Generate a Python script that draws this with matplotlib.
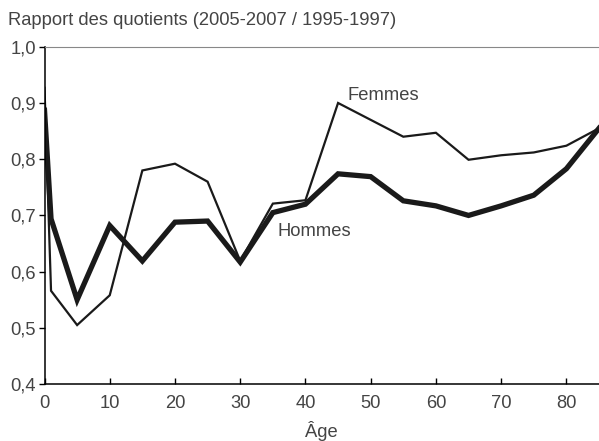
import matplotlib.pyplot as plt

plt.rcParams['font.family'] = ['Liberation Sans', 'DejaVu Sans']

# ages and ratios
ages = [0, 1, 5, 10, 15, 20, 25, 30, 35, 40, 45, 50, 55, 60, 65, 70, 75, 80, 85]
femmes = [0.927, 0.566, 0.505, 0.558, 0.780, 0.792, 0.760, 0.619, 0.721, 0.727,
          0.900, 0.870, 0.840, 0.847, 0.799, 0.807, 0.812, 0.824, 0.855]
hommes = [0.887, 0.694, 0.550, 0.682, 0.619, 0.688, 0.690, 0.617, 0.705, 0.720,
          0.774, 0.769, 0.726, 0.717, 0.700, 0.717, 0.736, 0.783, 0.855]
xticks = [0, 10, 20, 30, 40, 50, 60, 70, 80]
yticks = [0.4, 0.5, 0.6, 0.7, 0.8, 0.9, 1.0]

txt = '#444444'
fs = 13.2
fig = plt.figure(figsize=(5.99, 4.41), dpi=100)
ax = fig.add_axes([0.0743, 0.129, 0.9257, 0.765])

ax.plot(ages, femmes, color='#1a1a1a', lw=1.6, solid_joinstyle='miter')
ax.plot(ages, hommes, color='#1a1a1a', lw=3.8, solid_joinstyle='miter')

ax.set_xlim(0, 85)
ax.set_ylim(0.4, 1.0)
ax.set_xticks(xticks)
ax.set_yticks(yticks)
ax.set_yticklabels([('%.1f' % v).replace('.', ',') for v in yticks])

ax.spines['right'].set_visible(False)
ax.spines['top'].set_color('#888888')
ax.spines['top'].set_linewidth(0.8)
ax.spines['left'].set_linewidth(1.1)
ax.spines['bottom'].set_linewidth(1.1)
ax.tick_params(axis='x', direction='in', length=4, width=1, labelsize=fs,
               labelcolor=txt, pad=8)
ax.tick_params(axis='y', direction='out', length=4, width=1, labelsize=fs,
               labelcolor=txt, pad=2)

ax.set_xlabel('Âge', fontsize=fs, color=txt, labelpad=6)
fig.text(0.013, 0.953, 'Rapport des quotients (2005-2007 / 1995-1997)',
         fontsize=fs, color=txt, va='center', ha='left')

ax.text(46.4, 0.914, 'Femmes', fontsize=fs, color=txt, va='center')
ax.text(35.7, 0.671, 'Hommes', fontsize=fs, color=txt, va='center')

fig.savefig('out.png', dpi=100)
